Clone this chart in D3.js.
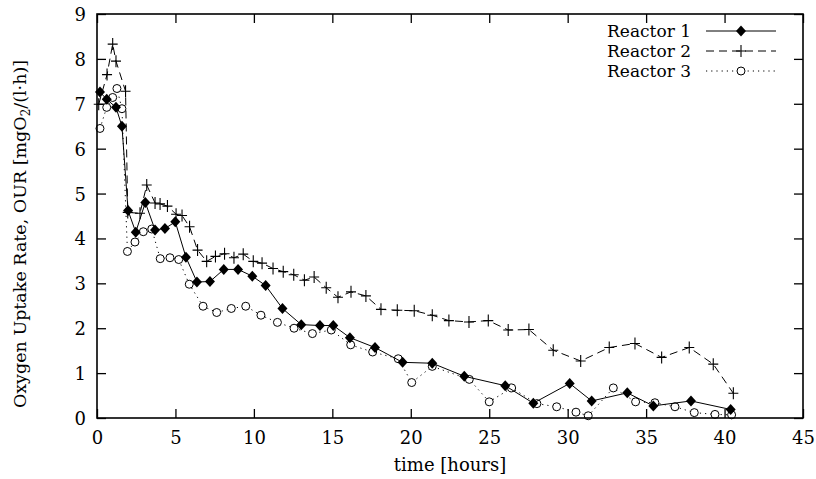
<!DOCTYPE html>
<html>
<head>
<meta charset="utf-8">
<script src="https://cdn.jsdelivr.net/npm/d3@7/dist/d3.min.js"></script>
<style>
  html, body { margin: 0; padding: 0; background: #fff; }
  svg { display: block; }
  text { font-family: "DejaVu Serif", serif; fill: #000; }
</style>
</head>
<body>
<svg id="chart" width="816" height="479"></svg>
<script>
// Oxygen uptake rate measurements, time in hours
const reactor1T = [0.19, 0.62, 1.21, 1.59, 1.98, 2.47, 3.08, 3.70, 4.33, 4.99, 5.67, 6.37, 7.20, 8.08, 8.99, 9.90, 10.75, 11.82, 13.02, 14.21, 15.06, 16.12, 17.72, 19.48, 21.37, 23.41, 26.02, 27.81, 30.13, 31.53, 33.80, 35.46, 37.86, 40.39];
const reactor1Y = [7.26, 7.10, 6.92, 6.50, 4.62, 4.14, 4.80, 4.19, 4.22, 4.37, 3.58, 3.03, 3.04, 3.31, 3.31, 3.16, 2.95, 2.44, 2.08, 2.06, 2.06, 1.79, 1.57, 1.24, 1.22, 0.93, 0.72, 0.33, 0.77, 0.38, 0.56, 0.27, 0.38, 0.19];

const reactor2T = [0.11, 0.64, 1.00, 1.21, 1.82, 1.96, 2.74, 3.17, 3.70, 4.02, 4.49, 5.04, 5.42, 5.90, 6.41, 6.99, 7.55, 8.13, 8.73, 9.32, 9.96, 10.52, 11.22, 11.87, 12.54, 13.22, 13.84, 14.61, 15.36, 16.19, 17.14, 18.10, 19.14, 20.22, 21.37, 22.43, 23.71, 24.94, 26.21, 27.53, 29.08, 30.83, 32.65, 34.29, 35.99, 37.75, 39.28, 40.56];
const reactor2Y = [6.99, 7.65, 8.33, 7.95, 7.28, 4.58, 4.56, 5.19, 4.79, 4.77, 4.72, 4.54, 4.51, 4.26, 3.74, 3.49, 3.60, 3.66, 3.57, 3.65, 3.49, 3.45, 3.33, 3.26, 3.19, 3.07, 3.14, 2.90, 2.69, 2.81, 2.72, 2.42, 2.40, 2.39, 2.29, 2.17, 2.14, 2.17, 1.96, 1.97, 1.51, 1.27, 1.57, 1.66, 1.35, 1.57, 1.20, 0.55];

const reactor3T = [0.19, 0.62, 1.00, 1.27, 1.59, 1.94, 2.42, 2.95, 3.49, 4.03, 4.65, 5.21, 5.88, 6.76, 7.63, 8.56, 9.48, 10.45, 11.50, 12.56, 13.73, 14.93, 16.17, 17.57, 19.20, 20.06, 21.37, 23.73, 25.00, 26.43, 28.04, 29.30, 30.53, 31.31, 32.91, 34.33, 35.56, 36.84, 38.07, 39.39, 40.45];
const reactor3Y = [6.45, 6.92, 7.14, 7.34, 6.89, 3.71, 3.92, 4.15, 4.21, 3.55, 3.57, 3.53, 2.98, 2.49, 2.35, 2.44, 2.49, 2.29, 2.13, 2.00, 1.88, 1.96, 1.63, 1.47, 1.32, 0.79, 1.15, 0.86, 0.36, 0.67, 0.32, 0.25, 0.13, 0.05, 0.67, 0.36, 0.34, 0.25, 0.12, 0.08, 0.07];

const xTicks = [0, 5, 10, 15, 20, 25, 30, 35, 40, 45];
const yTicks = [0, 1, 2, 3, 4, 5, 6, 7, 8, 9];
const seriesNames = ["Reactor 1", "Reactor 2", "Reactor 3"];

const svg = d3.select("#chart");
const plotLeft = 97, plotRight = 803, plotTop = 14, plotBottom = 418;
const fontFamily = "'DejaVu Serif', serif";
const fontSize = 18;
const tickLen = 9;

const x = d3.scaleLinear().domain([0, 45]).range([plotLeft, plotRight]);
const y = d3.scaleLinear().domain([0, 9]).range([plotBottom, plotTop]);

// Inward ticks on all four sides, labels only on bottom and left
function styleAxis(g) {
  g.attr("font-family", null).attr("font-size", null);
  g.select(".domain").remove();
  g.selectAll(".tick line").attr("stroke", "#000").attr("stroke-width", 1.3);
}

function styleLabels(g) {
  g.selectAll(".tick text")
    .style("font-family", fontFamily)
    .style("font-size", fontSize + "px")
    .attr("fill", "#000");
}

svg.append("g").attr("transform", `translate(0,${plotBottom})`)
  .call(d3.axisBottom(x).tickValues(xTicks).tickSizeInner(-tickLen).tickSizeOuter(0).tickFormat(d3.format("d")).tickPadding(0))
  .call(styleAxis)
  .call(styleLabels)
  .call(g => g.selectAll(".tick text").attr("y", 26).attr("dy", null));

svg.append("g").attr("transform", `translate(0,${plotTop})`)
  .call(d3.axisTop(x).tickValues(xTicks).tickSizeInner(-tickLen).tickSizeOuter(0).tickFormat(""))
  .call(styleAxis);

svg.append("g").attr("transform", `translate(${plotLeft},0)`)
  .call(d3.axisLeft(y).tickValues(yTicks).tickSizeInner(-tickLen).tickSizeOuter(0).tickFormat(d3.format("d")).tickPadding(0))
  .call(styleAxis)
  .call(styleLabels)
  .call(g => g.selectAll(".tick text").attr("x", -11).attr("dy", "0.36em"));

svg.append("g").attr("transform", `translate(${plotRight},0)`)
  .call(d3.axisRight(y).tickValues(yTicks).tickSizeInner(-tickLen).tickSizeOuter(0).tickFormat(""))
  .call(styleAxis);

// Axis titles
svg.append("text")
  .attr("x", (plotLeft + plotRight) / 2).attr("y", 471)
  .attr("text-anchor", "middle")
  .style("font-family", fontFamily)
  .style("font-size", fontSize + "px")
  .text("time [hours]");

const yTitle = svg.append("text")
  .attr("transform", `translate(26,234) rotate(-90)`)
  .attr("text-anchor", "middle")
  .style("font-family", fontFamily)
  .style("font-size", "17.5px");
yTitle.append("tspan").text("Oxygen Uptake Rate, OUR [mgO");
yTitle.append("tspan").attr("dy", 4).style("font-size", "12px").text("2");
yTitle.append("tspan").attr("dy", -4).text("/(l\u00B7h)]");

// Series
const makeSeries = (ts, ys) => ts.map((t, i) => ({ t, v: ys[i] }));
const series = [
  { name: seriesNames[0], data: makeSeries(reactor1T, reactor1Y), dash: null, marker: "diamond" },
  { name: seriesNames[1], data: makeSeries(reactor2T, reactor2Y), dash: "8,5", marker: "plus" },
  { name: seriesNames[2], data: makeSeries(reactor3T, reactor3Y), dash: "1.2,4", marker: "circle" }
];

const line = d3.line().x(d => x(d.t)).y(d => y(d.v));

function drawMarker(g, type, cx, cy) {
  if (type === "diamond") {
    g.append("path")
      .attr("d", `M${cx},${cy - 5.5}L${cx + 5},${cy}L${cx},${cy + 5.5}L${cx - 5},${cy}Z`)
      .attr("fill", "#000");
  } else if (type === "plus") {
    g.append("path")
      .attr("d", `M${cx - 5},${cy}H${cx + 5}M${cx},${cy - 6}V${cy + 6}`)
      .attr("stroke", "#000").attr("stroke-width", 1.1).attr("fill", "none");
  } else {
    g.append("circle").attr("cx", cx).attr("cy", cy).attr("r", 4)
      .attr("fill", "#fff").attr("stroke", "#000").attr("stroke-width", 1);
  }
}

const plot = svg.append("g");
// draw in reverse so Reactor 1 sits on top
series.slice().reverse().forEach(s => {
  const g = plot.append("g");
  g.append("path").datum(s.data)
    .attr("d", line)
    .attr("fill", "none")
    .attr("stroke", "#000")
    .attr("stroke-width", 1)
    .attr("stroke-dasharray", s.dash);
  s.data.forEach(d => drawMarker(g, s.marker, x(d.t), y(d.v)));
});

// Legend
const legendRows = [31, 51, 71];
series.forEach((s, i) => {
  const g = svg.append("g");
  const ly = legendRows[i];
  g.append("text")
    .attr("x", 691).attr("y", ly).attr("dy", "0.36em")
    .attr("text-anchor", "end")
    .style("font-family", fontFamily)
    .style("font-size", "17px")
    .text(s.name);
  g.append("line")
    .attr("x1", 706).attr("x2", 776).attr("y1", ly).attr("y2", ly)
    .attr("stroke", "#000").attr("stroke-width", 1)
    .attr("stroke-dasharray", s.dash);
  drawMarker(g, s.marker, 741, ly);
});

// Frame
svg.append("rect")
  .attr("x", plotLeft).attr("y", plotTop)
  .attr("width", plotRight - plotLeft).attr("height", plotBottom - plotTop)
  .attr("fill", "none").attr("stroke", "#000").attr("stroke-width", 1.6);
</script>
</body>
</html>
